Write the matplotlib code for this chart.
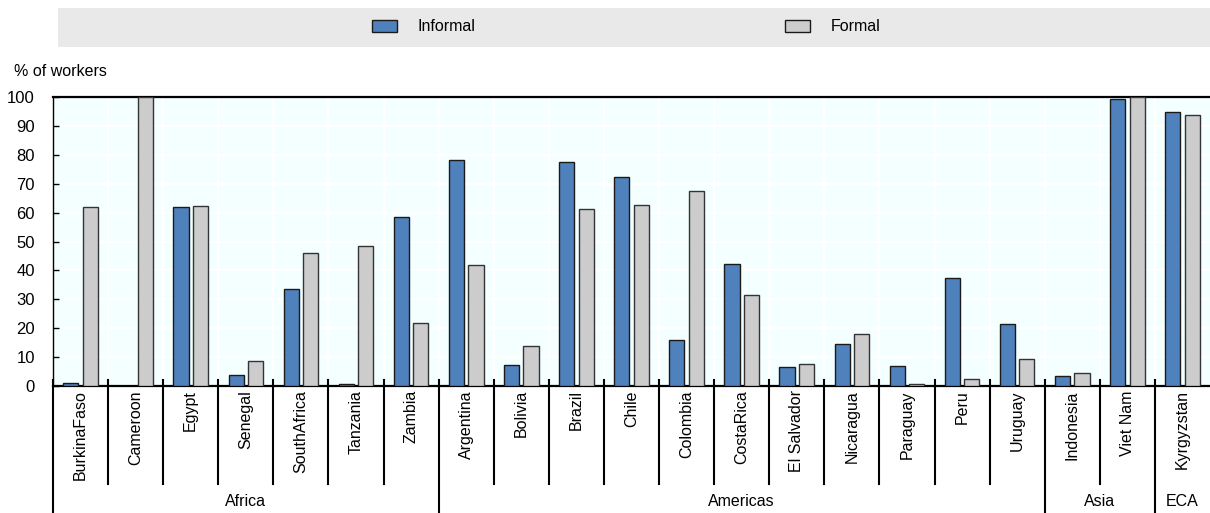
import matplotlib
matplotlib.use("Agg")
import matplotlib.pyplot as plt
from matplotlib import font_manager
from matplotlib.patches import Rectangle, Patch

countries = ["BurkinaFaso", "Cameroon", "Egypt", "Senegal", "SouthAfrica",
             "Tanzania", "Zambia", "Argentina", "Bolivia", "Brazil", "Chile",
             "Colombia", "CostaRica", "El Salvador", "Nicaragua", "Paraguay",
             "Peru", "Uruguay", "Indonesia", "Viet Nam", "Kyrgyzstan"]
informal = [1.2, 0.0, 61.8, 3.7, 33.4, 0.8, 58.6, 78.2, 7.4, 77.6, 72.2,
            15.9, 42.3, 6.5, 14.5, 6.8, 37.3, 21.5, 3.5, 99.2, 94.8]
formal = [62.1, 100.0, 62.4, 8.7, 46.1, 48.4, 21.9, 41.9, 13.8, 61.1, 62.6,
          67.5, 31.5, 7.6, 18.0, 0.7, 2.5, 9.2, 4.6, 100.0, 93.9]
groups = ["Africa", "Americas", "Asia", "ECA"]
group_sizes = [7, 11, 2, 1]
yticks = [0, 10, 20, 30, 40, 50, 60, 70, 80, 90, 100]

names = {f.name for f in font_manager.fontManager.ttflist}
if "Liberation Sans Narrow" in names:
    fam, fs = "Liberation Sans Narrow", 14
else:
    fam, fs = "Liberation Sans", 11.5
plt.rcParams["font.family"] = [fam, "DejaVu Sans"]

W, H = 1210, 513
px = fs * 100 / 72  # font size in pixels
fig = plt.figure(figsize=(W / 100, H / 100), dpi=100)
ax = fig.add_axes([53 / W, 1 - 386 / H, 1157 / W, 289 / H])

# legend band
fig.patches.append(Rectangle((58 / W, 1 - 47 / H), 1 - 58 / W, 39 / H,
                             transform=fig.transFigure, facecolor="#e9e9e9",
                             edgecolor="none", zorder=0))
handles = [Patch(facecolor="#4f81bd", edgecolor="#1a1a1a", lw=1, label="Informal"),
           Patch(facecolor="#cccccc", edgecolor="#1a1a1a", lw=1, label="Formal")]
fig.legend(handles=handles, loc="center", bbox_to_anchor=(626 / W, 1 - 27 / H),
           ncol=2, frameon=False, fontsize=fs, handlelength=25 / px,
           handleheight=13 / px, handletextpad=21 / px,
           columnspacing=309 / px)

x = list(range(len(countries)))
bw = 0.275
ax.bar([i - 0.177 for i in x], informal, bw, color="#4f81bd",
       edgecolor="#1a1a1a", lw=1, zorder=3)
ax.bar([i + 0.177 for i in x], formal, bw, color="#cccccc",
       edgecolor="#333333", lw=1, zorder=3)

ax.set_facecolor("#f4ffff")
ax.set_xlim(-0.5, len(countries) - 0.5)
ax.set_ylim(0, 100)
ax.set_yticks(yticks)
for v in yticks[1:]:
    ax.axhline(v, color="white", lw=1.5, zorder=1)
for b in range(1, len(countries)):
    ax.axvline(b - 0.5, color="white", lw=1.5, zorder=1)

ax.tick_params(axis="y", direction="in", length=4, width=1, pad=13,
               labelsize=fs + 0.5)
ax.set_xticks(x)
ax.set_xticklabels(countries, rotation=90, fontsize=fs, va="top")
ax.tick_params(axis="x", length=0, pad=3)

for s in ["left", "top", "bottom"]:
    ax.spines[s].set_color("black")
ax.spines["left"].set_linewidth(1)
ax.spines["top"].set_linewidth(1.6)
ax.spines["bottom"].set_linewidth(1.6)
ax.spines["right"].set_visible(False)

fig.text(14 / W, 1 - 72 / H, "% of workers", va="center", ha="left", fontsize=fs)

# separators below the axis
tr = ax.get_xaxis_transform()
top = 6 / 289
low_c = -(484 - 386) / 289
low_g = -(513 - 386) / 289 - 0.01
edges = [0]
for n in group_sizes:
    edges.append(edges[-1] + n)
for b in range(0, len(countries)):
    yb = low_g if b in edges else low_c
    ax.plot([b - 0.5, b - 0.5], [top, yb], color="black", lw=1.5,
            transform=tr, clip_on=False, zorder=5)
for g, a, e in zip(groups, edges[:-1], edges[1:]):
    ax.text((a + e - 1) / 2, -(501 - 386) / 289, g, transform=tr,
            ha="center", va="center", fontsize=fs)

fig.savefig("out.png", dpi=100)
